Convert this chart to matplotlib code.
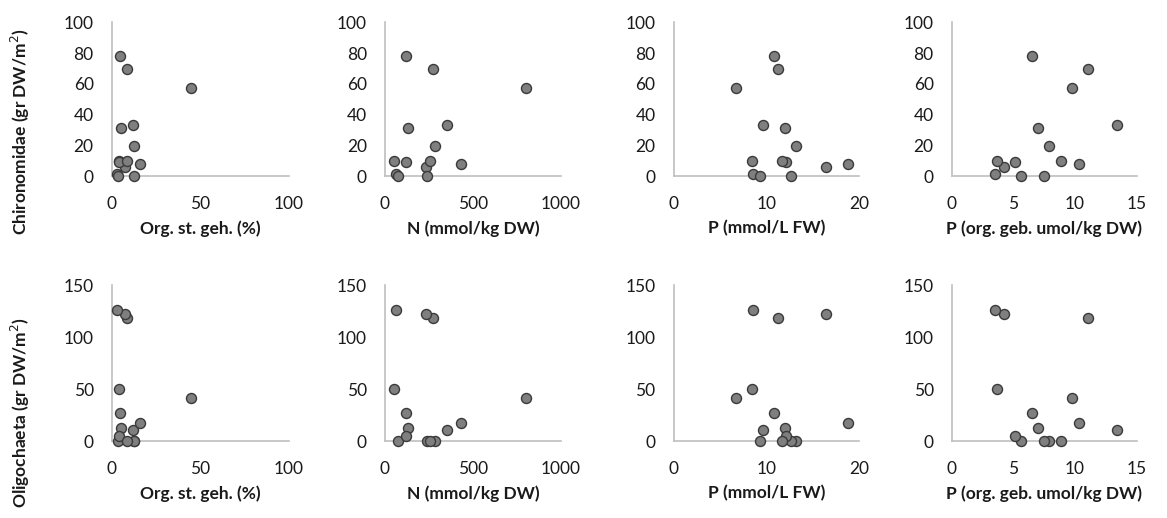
import matplotlib
matplotlib.use("Agg")
import matplotlib.pyplot as plt

# ---- data (14 samples) ----
org_st = [4.9, 8.6, 44.6, 12.0, 5.3, 12.5, 15.7, 7.3, 2.9, 3.6, 12.4, 4.0, 4.1, 8.4]
n_mmol = [121, 273, 802, 352, 132, 283, 433, 231, 61, 75, 236, 51, 121, 253]
p_fw = [10.85, 11.25, 6.7, 9.6, 11.95, 13.2, 18.8, 16.45, 8.55, 9.3, 12.6, 8.4, 12.1, 11.7]
p_org = [6.5, 11.05, 9.75, 13.4, 7.0, 7.9, 10.35, 4.25, 3.5, 5.65, 7.45, 3.65, 5.1, 8.9]
chironomidae = [78.4, 69.5, 57.3, 33.4, 31.3, 19.8, 8.2, 6.0, 1.9, 0.4, 0.0, 10.0, 9.5, 10.0]
oligochaeta = [27.0, 118.5, 41.8, 10.9, 13.2, 0.0, 17.3, 123.0, 126.2, 0.0, 0.0, 50.6, 5.3, 0.0]

x_labels = ["Org. st. geh. (%)", "N (mmol/kg DW)", "P (mmol/L FW)", "P (org. geb. umol/kg DW)"]
x_ticks = [[0, 50, 100], [0, 500, 1000], [0, 10, 20], [0, 5, 10, 15]]
y_labels = ["Chironomidae (gr DW/m$^2$)", "Oligochaeta (gr DW/m$^2$)"]
y_ticks = [[0, 20, 40, 60, 80, 100], [0, 50, 100, 150]]

xs = [org_st, n_mmol, p_fw, p_org]
ys = [chironomidae, oligochaeta]

W, H = 1167, 518
fig = plt.figure(figsize=(W / 100, H / 100), dpi=100)
plt.rcParams['font.family'] = ['Lato', 'DejaVu Sans']

cols = [(111.7, 288.8), (385.0, 561.0), (673.5, 859.3), (951.7, 1136.7)]
rows = [(176.5, 22.3), (441.3, 285.5)]

axis_col = '#bfbfbf'
txt_col = '#1a1a1a'

for r, (y0, y1) in enumerate(rows):
    for c, (x0, x1) in enumerate(cols):
        ax = fig.add_axes([x0 / W, 1 - y0 / H, (x1 - x0) / W, (y0 - y1) / H])
        ax.scatter(xs[c], ys[r], s=52, facecolor='#7f7f7f', edgecolor='#3a3a3a',
                   linewidth=1.0, clip_on=False, zorder=3)
        ax.set_xlim(x_ticks[c][0], x_ticks[c][-1])
        ax.set_ylim(y_ticks[r][0], y_ticks[r][-1])
        ax.set_xticks(x_ticks[c])
        ax.set_yticks(y_ticks[r])
        for s in ['top', 'right']:
            ax.spines[s].set_visible(False)
        for s in ['left', 'bottom']:
            ax.spines[s].set_color(axis_col)
            ax.spines[s].set_linewidth(1.2)
        ax.tick_params(axis='both', length=0, labelsize=12.5, colors=txt_col)
        ax.tick_params(axis='x', pad=14)
        ax.tick_params(axis='y', pad=13)
        ax.set_xlabel(x_labels[c], fontsize=12.5, fontweight='bold', color=txt_col, labelpad=6)
        ax.patch.set_alpha(0)

fig.text(20 / W, 1 - 132 / H, y_labels[0], rotation=90, ha='center', va='center',
         fontsize=12.5, fontweight='bold', color=txt_col)
fig.text(20 / W, 1 - 412 / H, y_labels[1], rotation=90, ha='center', va='center',
         fontsize=12.5, fontweight='bold', color=txt_col)

fig.savefig("out.png", dpi=100, facecolor='white')
